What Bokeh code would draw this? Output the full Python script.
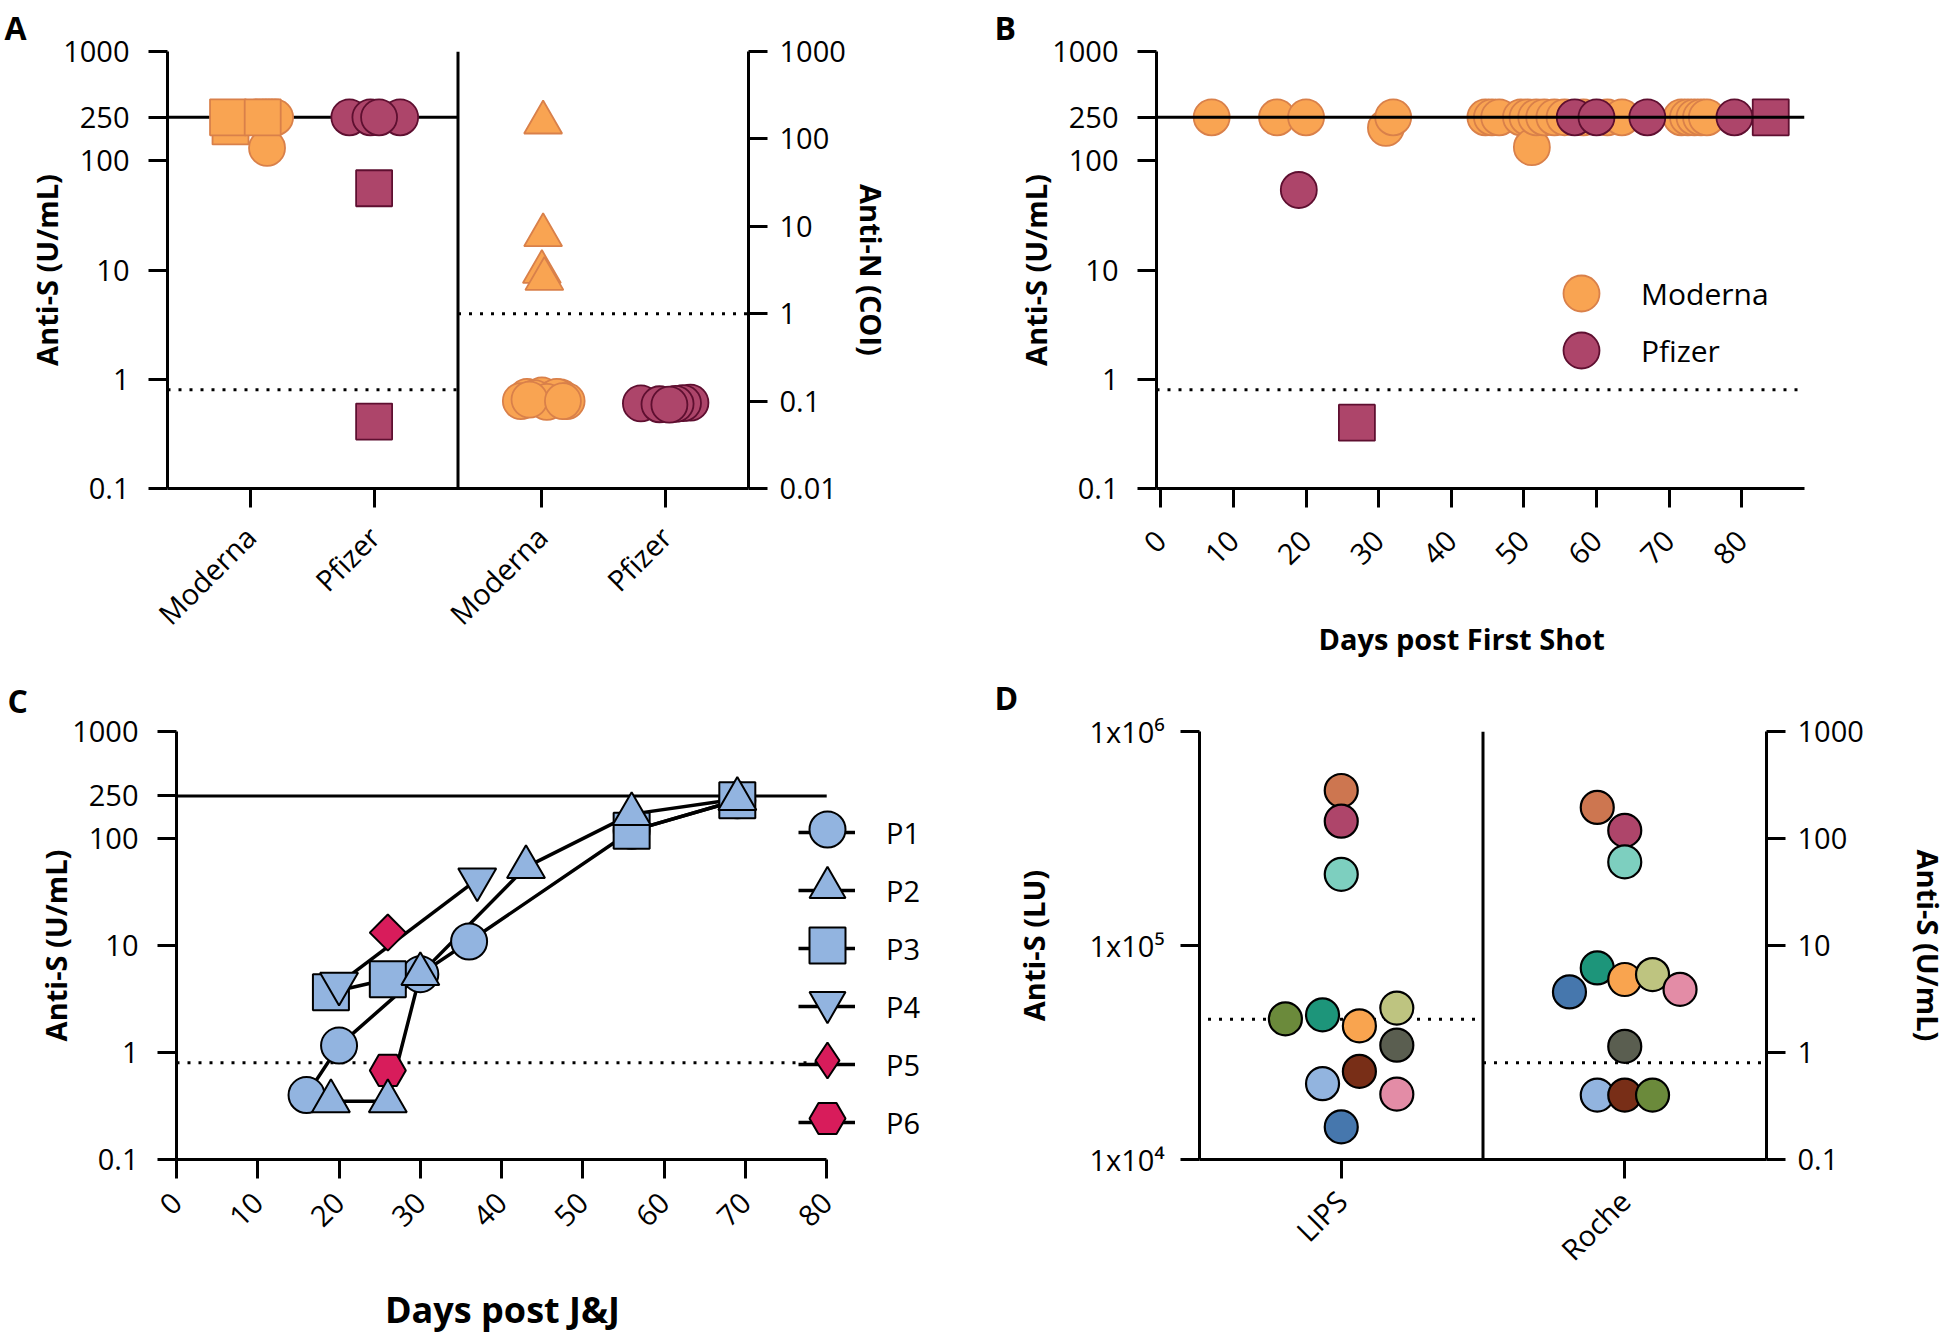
import math
import numpy as np
from bokeh.plotting import figure
from bokeh.models import (Range1d, FactorRange, LogScale, LogAxis, FixedTicker,
                          CustomJSTickFormatter, Span, Legend, LegendItem)
from bokeh.layouts import column, row
from bokeh.embed import file_html
from bokeh.resources import INLINE

FONT = "Open Sans"
TICK_PX = "29px"
NBSP = "\u00a0"

# ---------------- data ----------------
ULOQ = 250            # upper limit of quantification, U/mL
S_CUTOFF = 0.8        # anti-S positivity cutoff, U/mL
N_CUTOFF = 1.0        # anti-N cutoff, COI
LIPS_CUTOFF = 45200   # LIPS cutoff, LU

# Panel A
A_FACTORS = [("Anti-S", "Moderna"), ("Anti-S", "Pfizer"), ("Anti-N", "Moderna"), ("Anti-N", "Pfizer")]
A_S_TICKS = [0.1, 1, 10, 100, 250, 1000]
A_S_LABELS = ["0.1", "1", "10", "100", "250", "1000"]
A_N_TICKS = [0.01, 0.1, 1, 10, 100, 1000]
A_N_LABELS = ["0.01", "0.1", "1", "10", "100", "1000"]

A_S_MOD_CIRC = [250, 250, 250, 250, 131]
A_S_MOD_CIRC_DX = [0.05, 0.10, 0.15, 0.20, 0.135]
A_S_MOD_SQ = [206, 250, 250]
A_S_MOD_SQ_DX = [-0.16, -0.18, 0.10]
A_S_PFZ_CIRC = [250, 250, 250, 250]
A_S_PFZ_CIRC_DX = [-0.20, 0.21, -0.03, 0.04]
A_S_PFZ_SQ = [56, 0.41]
A_S_PFZ_SQ_DX = [0.0, 0.0]
A_N_MOD_TRI = [154, 7.9, 3.0, 2.5]
A_N_MOD_TRI_DX = [0.01, 0.01, 0.0, 0.02]
A_N_MOD_CIRC = [0.112, 0.116, 0.105, 0.110, 0.100, 0.108, 0.112, 0.100, 0.098, 0.104, 0.100]
A_N_MOD_CIRC_DX = [-0.12, 0.0, 0.08, 0.15, -0.17, -0.06, 0.12, 0.20, 0.04, -0.10, 0.17]
A_N_PFZ_CIRC = [0.094, 0.096, 0.092, 0.095, 0.093, 0.091]
A_N_PFZ_CIRC_DX = [-0.20, 0.20, -0.05, 0.14, 0.08, 0.03]

# Panel B
B_TICKS = [0, 10, 20, 30, 40, 50, 60, 70, 80]
B_MOD_DAYS = [7, 16, 20, 31, 32, 44.7, 45.6, 46.6, 49.6, 50.5, 51.1, 51.7, 52.8, 54.2,
              55.6, 58.2, 61.5, 63.5, 71.7, 72.6, 73.5, 74.4, 75.2]
B_MOD_VALS = [250, 250, 250, 200, 250, 250, 250, 250, 250, 250, 133, 250, 250, 250,
              250, 250, 250, 250, 250, 250, 250, 250, 250]
B_PFZ_CIRC_DAYS = [19, 57, 60, 67, 79]
B_PFZ_CIRC_VALS = [54, 250, 250, 250, 250]
B_PFZ_SQ_DAYS = [27, 84]
B_PFZ_SQ_VALS = [0.4, 250]

# Panel C
C_TICKS = [0, 10, 20, 30, 40, 50, 60, 70, 80]
C_SERIES = ["P1", "P2", "P3", "P4", "P5", "P6"]
C_DAYS = {
    "P1": [16, 20, 30, 36, 56, 69],
    "P2": [19, 26, 30, 43, 56, 69],
    "P3": [19, 26, 36, 56, 69],
    "P4": [20, 37],
    "P5": [26],
    "P6": [26],
}
C_VALS = {
    "P1": [0.40, 1.16, 5.4, 10.9, 118, 228],
    "P2": [0.35, 0.35, 5.4, 54, 169, 234],
    "P3": [3.66, 4.83, float("nan"), 118, 228],
    "P4": [4.4, 41.5],
    "P5": [13.2],
    "P6": [0.68],
}

# Panel D
D_FACTORS = ["LIPS", "Roche"]
D_L_TICKS = [1e4, 1e5, 1e6]
D_L_LABELS = ["1x10\u2074", "1x10\u2075", "1x10\u2076"]
D_R_TICKS = [0.1, 1, 10, 100, 1000]
D_R_LABELS = ["0.1", "1", "10", "100", "1000"]
D_COLORS = ["#CD7650", "#AE456A", "#7DCFBF", "#6B8A3B", "#1D957A", "#F9A44F",
            "#BEC480", "#5A5E50", "#782E17", "#92B4DF", "#E38CA6", "#4677AD"]
D_LIPS = [530000, 381000, 215000, 45400, 47400, 42100, 51000, 34200, 25800, 22600, 20200, 14200]
D_LIPS_DX = [0, 0, 0, -0.197, -0.066, 0.064, 0.196, 0.196, 0.064, -0.066, 0.196, 0]
D_ROCHE = [195, 119, 60.4, 0.40, 6.17, 4.81, 5.35, 1.14, 0.40, 0.40, 3.89, 3.68]
D_ROCHE_DX = [-0.097, 0, 0, 0.098, -0.097, 0, 0.098, 0, 0, -0.097, 0.195, -0.195]

# ---------------- styling ----------------
MOD_FILL, MOD_LINE = "#F9A452", "#D9804A"
PFZ_FILL, PFZ_LINE = "#AD456A", "#5E0F30"
BLUE, RED = "#92B4E0", "#D81C5B"


def fmt(tvals, tlabels):
    return CustomJSTickFormatter(args=dict(tvals=tvals, tlabels=tlabels), code="""
        for (let i = 0; i < tvals.length; i++) {
            if (Math.abs(Math.log10(tick) - Math.log10(tvals[i])) < 1e-6) return tlabels[i];
        }
        return '';
    """)


def style_axis(ax, title_size="29px", label_standoff=12, title_standoff=5):
    ax.axis_line_width = 3
    ax.axis_line_color = "black"
    ax.major_tick_line_width = 3
    ax.major_tick_line_color = "black"
    ax.major_tick_out = 19
    ax.major_tick_in = 0
    ax.minor_tick_line_color = None
    ax.major_label_text_font = FONT
    ax.major_label_text_font_size = TICK_PX
    ax.major_label_text_color = "black"
    ax.major_label_standoff = label_standoff
    ax.axis_label_text_font = FONT
    ax.axis_label_text_font_style = "bold"
    ax.axis_label_text_font_size = title_size
    ax.axis_label_text_color = "black"
    ax.axis_label_standoff = title_standoff


def base(width, height, x_range, y_range, borders, letter, letter_offset, letter_standoff):
    l, r, t, b = borders
    p = figure(width=width, height=height, x_range=x_range, y_range=y_range,
               y_axis_type="log", output_backend="svg", toolbar_location=None,
               min_border_left=l, min_border_right=r, min_border_top=t, min_border_bottom=b)
    p.grid.visible = False
    p.outline_line_color = None
    p.title.text = letter
    p.title.align = "left"
    p.title.offset = letter_offset
    p.title.standoff = letter_standoff
    p.title.text_font = FONT
    p.title.text_font_style = "bold"
    p.title.text_font_size = "32px"
    p.title.text_color = "black"
    return p


def marker_legend(p, renderer, vx, vy):
    p.add_layout(Legend(items=[LegendItem(label=" ", renderers=[renderer])],
                        location=(vx, vy), glyph_width=90, glyph_height=90,
                        label_standoff=0, label_width=0, padding=0, margin=0,
                        border_line_color=None, background_fill_alpha=0,
                        label_text_font_size="1px"))


dotted = dict(line_color="black", line_width=3, line_dash="3 8")
solid = dict(line_color="black", line_width=3)

# ---------------- Panel A ----------------
GROUP_PAD, END_PAD = 0.355, 0.169
a_x = FactorRange(factors=A_FACTORS, factor_padding=0, group_padding=GROUP_PAD,
                  range_padding=END_PAD, range_padding_units="absolute")
pa = base(990, 660, a_x, Range1d(0.1, 1000), (167, 242, 51, 172), "A", -163, 6)
pa.extra_y_ranges = {"n": Range1d(0.01, 1000)}
pa.extra_y_scales = {"n": LogScale()}
a_div = 2 + GROUP_PAD / 2
a_start, a_end = -END_PAD, 4 + GROUP_PAD + END_PAD

pa.add_layout(Span(location=a_div, dimension="height", line_color="black", line_width=3))
pa.segment(x0=[a_start], x1=[a_div], y0=[ULOQ], y1=[ULOQ], **solid)
pa.segment(x0=[a_start], x1=[a_div], y0=[S_CUTOFF], y1=[S_CUTOFF], **dotted)
pa.segment(x0=[a_div], x1=[a_end], y0=[N_CUTOFF], y1=[N_CUTOFF], y_range_name="n", **dotted)

mk_a = dict(size=36, line_width=1.8)
pa.scatter(x=[("Anti-S", "Moderna", d) for d in A_S_MOD_CIRC_DX], y=A_S_MOD_CIRC, marker="circle",
           fill_color=MOD_FILL, line_color=MOD_LINE, **mk_a)
pa.scatter(x=[("Anti-S", "Moderna", d) for d in A_S_MOD_SQ_DX], y=A_S_MOD_SQ, marker="square",
           fill_color=MOD_FILL, line_color=MOD_LINE, **mk_a)
pa.scatter(x=[("Anti-S", "Pfizer", d) for d in A_S_PFZ_CIRC_DX], y=A_S_PFZ_CIRC, marker="circle",
           fill_color=PFZ_FILL, line_color=PFZ_LINE, **mk_a)
pa.scatter(x=[("Anti-S", "Pfizer", d) for d in A_S_PFZ_SQ_DX], y=A_S_PFZ_SQ, marker="square",
           fill_color=PFZ_FILL, line_color=PFZ_LINE, **mk_a)
pa.scatter(x=[("Anti-N", "Moderna", d) for d in A_N_MOD_TRI_DX], y=A_N_MOD_TRI, marker="triangle",
           fill_color=MOD_FILL, line_color=MOD_LINE, y_range_name="n", size=38, line_width=1.8)
pa.scatter(x=[("Anti-N", "Moderna", d) for d in A_N_MOD_CIRC_DX], y=A_N_MOD_CIRC, marker="circle",
           fill_color=MOD_FILL, line_color=MOD_LINE, y_range_name="n", **mk_a)
pa.scatter(x=[("Anti-N", "Pfizer", d) for d in A_N_PFZ_CIRC_DX], y=A_N_PFZ_CIRC, marker="circle",
           fill_color=PFZ_FILL, line_color=PFZ_LINE, y_range_name="n", **mk_a)

ya = pa.yaxis[0]
ya.ticker = FixedTicker(ticks=A_S_TICKS)
ya.formatter = fmt(A_S_TICKS, A_S_LABELS)
ya.axis_label = "Anti-S (U/mL)"
style_axis(ya, label_standoff=19, title_standoff=-6)
ya_r = LogAxis(y_range_name="n", ticker=FixedTicker(ticks=A_N_TICKS),
               formatter=fmt(A_N_TICKS, A_N_LABELS), axis_label="Anti-N (COI)")
style_axis(ya_r, title_standoff=3)
pa.add_layout(ya_r, "right")
xa = pa.xaxis[0]
style_axis(xa, label_standoff=24)
xa.major_label_orientation = math.pi / 4
xa.group_text_alpha = 0
xa.group_text_font_size = "1px"
xa.separator_line_color = None

# ---------------- Panel B ----------------
pb = base(960, 660, Range1d(-0.6, 88.65), Range1d(0.1, 1000), (166, 146, 51, 172), "B", -162, 6)
pb.add_layout(Span(location=ULOQ, dimension="width", **solid))
pb.add_layout(Span(location=S_CUTOFF, dimension="width", **dotted))
mk_b = dict(size=36, line_width=1.8)
b_mod = pb.scatter(B_MOD_DAYS, B_MOD_VALS, marker="circle", fill_color=MOD_FILL, line_color=MOD_LINE, **mk_b)
b_pfz = pb.scatter(B_PFZ_CIRC_DAYS, B_PFZ_CIRC_VALS, marker="circle", fill_color=PFZ_FILL, line_color=PFZ_LINE, **mk_b)
pb.scatter(B_PFZ_SQ_DAYS, B_PFZ_SQ_VALS, marker="square", fill_color=PFZ_FILL, line_color=PFZ_LINE, **mk_b)
yb = pb.yaxis[0]
yb.ticker = FixedTicker(ticks=A_S_TICKS)
yb.formatter = fmt(A_S_TICKS, A_S_LABELS)
yb.axis_label = "Anti-S (U/mL)"
style_axis(yb, label_standoff=19, title_standoff=-6)
xb = pb.xaxis[0]
xb.ticker = FixedTicker(ticks=B_TICKS)
xb.axis_label = "Days post First Shot" + NBSP * 5
style_axis(xb, label_standoff=28, title_standoff=42)
xb.major_label_orientation = math.pi / 4
for label, rend, vy in [("Moderna", b_mod, 150), ("Pfizer", b_pfz, 93)]:
    pb.add_layout(Legend(items=[LegendItem(label=label, renderers=[rend])],
                         location=(380, vy), glyph_width=90, glyph_height=90,
                         label_standoff=15, padding=0, margin=0, border_line_color=None,
                         background_fill_alpha=0, label_text_font=FONT,
                         label_text_font_size="30px", label_text_color="black"))

# ---------------- Panel C ----------------
pc = base(990, 676, Range1d(0, 94), Range1d(0.1, 1000), (176, 50, 64, 177), "C", -169, 19)
pc.segment(x0=[0], x1=[80], y0=[ULOQ], y1=[ULOQ], **solid)
pc.segment(x0=[0], x1=[80], y0=[S_CUTOFF], y1=[S_CUTOFF], **dotted)
line_rs = {}
for s in C_SERIES:
    line_rs[s] = pc.line(C_DAYS[s], np.array(C_VALS[s], dtype=float), line_color="black", line_width=3.5)
c_style = {
    "P1": dict(marker="circle", size=36, fill_color=BLUE),
    "P2": dict(marker="triangle", size=38, fill_color=BLUE),
    "P3": dict(marker="square", size=36, fill_color=BLUE),
    "P4": dict(marker="inverted_triangle", size=38, fill_color=BLUE),
    "P5": dict(marker="square", size=25.5, angle=math.pi / 4, fill_color=RED),
    "P6": dict(marker="hex", size=36, fill_color=RED),
}
mark_rs = {}
for s in ["P1", "P3", "P5", "P6", "P2", "P4"]:
    mark_rs[s] = pc.scatter(C_DAYS[s], np.array(C_VALS[s], dtype=float), line_color="black",
                            line_width=2, **c_style[s])
# legend-only glyph for P5 (legend markers are drawn unrotated); no drawable point
mark_rs["P5"] = pc.scatter(np.array([np.nan]), np.array([np.nan]), marker="diamond",
                           fill_color=RED, line_color="black", line_width=2)
yc = pc.yaxis[0]
yc.ticker = FixedTicker(ticks=A_S_TICKS)
yc.formatter = fmt(A_S_TICKS, A_S_LABELS)
yc.axis_label = "Anti-S (U/mL)"
style_axis(yc, label_standoff=19, title_standoff=-6)
xc = pc.xaxis[0]
xc.ticker = FixedTicker(ticks=C_TICKS)
xc.bounds = (0, 80)
xc.axis_label = "Days post J&J" + NBSP * 12
style_axis(xc, title_size="36px", label_standoff=19, title_standoff=46)
xc.major_label_orientation = math.pi / 4
pc.add_layout(Legend(items=[LegendItem(label=s, renderers=[line_rs[s]]) for s in C_SERIES],
                     location=(622, 8), glyph_width=57, glyph_height=58, spacing=0,
                     label_standoff=31, padding=0, margin=0, border_line_color=None,
                     background_fill_alpha=0, label_text_font=FONT,
                     label_text_font_size=TICK_PX, label_text_color="black"))
for i, s in enumerate(C_SERIES):
    marker_legend(pc, mark_rs[s], 606, round(1159 - (829.3 + 57.7 * i) - 45))

# ---------------- Panel D ----------------
d_x = FactorRange(factors=D_FACTORS, factor_padding=0, range_padding=0)
pd_ = base(960, 676, d_x, Range1d(1e4, 1e6), (209, 169, 71, 172), "D", -205, 26)
pd_.extra_y_ranges = {"r": Range1d(0.1, 1000)}
pd_.extra_y_scales = {"r": LogScale()}
pd_.add_layout(Span(location=1.0, dimension="height", line_color="black", line_width=3))
pd_.segment(x0=[0.03], x1=[1.0], y0=[LIPS_CUTOFF], y1=[LIPS_CUTOFF], **dotted)
pd_.segment(x0=[1.0], x1=[2.0], y0=[S_CUTOFF], y1=[S_CUTOFF], y_range_name="r", **dotted)
pd_.scatter(x=[("LIPS", d) for d in D_LIPS_DX], y=D_LIPS, marker="circle", size=33,
            fill_color=D_COLORS, line_color="black", line_width=2.2)
order = sorted(range(len(D_ROCHE)), key=lambda i: D_ROCHE_DX[i])
pd_.scatter(x=[("Roche", D_ROCHE_DX[i]) for i in order], y=[D_ROCHE[i] for i in order],
            marker="circle", size=33, fill_color=[D_COLORS[i] for i in order],
            line_color="black", line_width=2.2, y_range_name="r")
yd = pd_.yaxis[0]
yd.ticker = FixedTicker(ticks=D_L_TICKS)
yd.formatter = fmt(D_L_TICKS, D_L_LABELS)
yd.axis_label = "Anti-S (LU)"
style_axis(yd, label_standoff=16, title_standoff=33)
yd_r = LogAxis(y_range_name="r", ticker=FixedTicker(ticks=D_R_TICKS),
               formatter=fmt(D_R_TICKS, D_R_LABELS), axis_label="Anti-S (U/mL)")
style_axis(yd_r, title_standoff=42)
pd_.add_layout(yd_r, "right")
xd = pd_.xaxis[0]
style_axis(xd, label_standoff=17)
xd.major_label_orientation = math.pi / 4

layout = column(row(pa, pb), row(pc, pd_))
open("out.html", "w").write(file_html(layout, INLINE))
